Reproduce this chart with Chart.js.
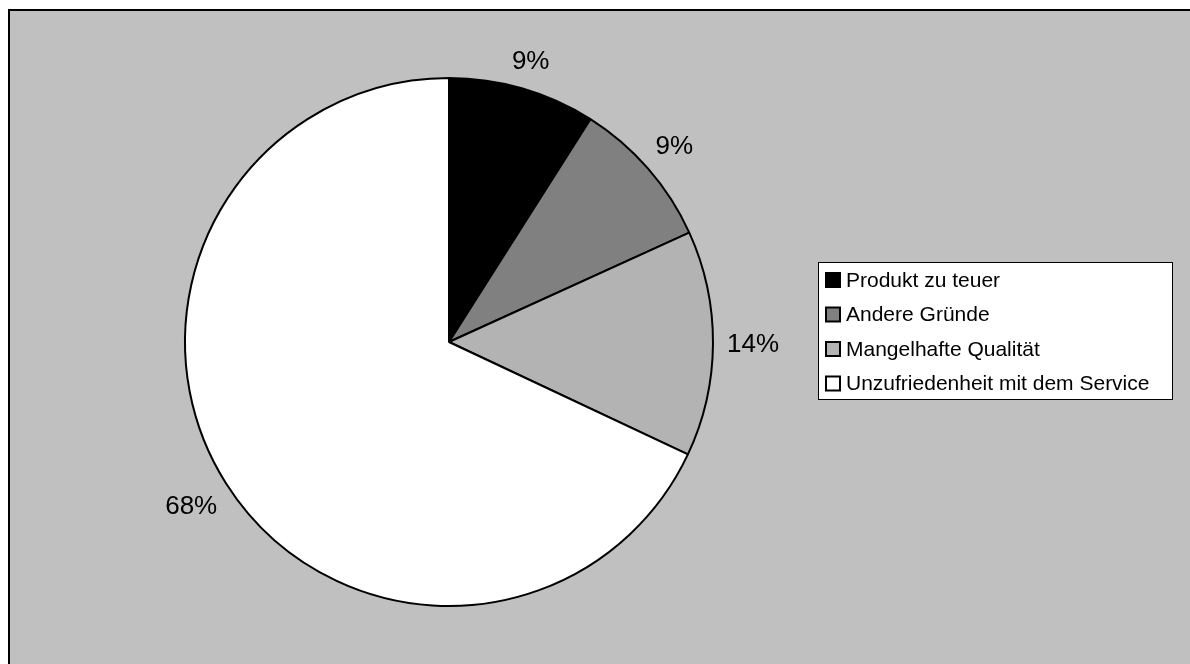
<!DOCTYPE html>
<html>
<head>
<meta charset="utf-8">
<script src="https://cdn.jsdelivr.net/npm/chart.js@4/dist/chart.umd.min.js"></script>
<style>
  html, body { margin: 0; padding: 0; background: #ffffff; }
  #wrap { position: absolute; left: 0; top: 0; width: 1190px; height: 664px; }
</style>
</head>
<body>
<div id="wrap"><canvas id="c" width="1190" height="664"></canvas></div>
<script>
const categories = ["Produkt zu teuer", "Andere Gründe", "Mangelhafte Qualität", "Unzufriedenheit mit dem Service"];
const values = [9.0, 9.2, 13.8, 68.0];
const sliceColors = ["#000000", "#808080", "#B3B3B3", "#FFFFFF"];

const FONT = "'Liberation Sans', Arial, sans-serif";

const backgroundPlugin = {
  id: 'bgFrame',
  beforeDraw(chart) {
    const ctx = chart.ctx;
    ctx.save();
    ctx.fillStyle = '#ffffff';
    ctx.fillRect(0, 0, chart.width, chart.height);
    ctx.fillStyle = '#C0C0C0';
    ctx.fillRect(8, 9, chart.width - 8, chart.height - 9);
    ctx.fillStyle = '#000000';
    ctx.fillRect(8, 9, chart.width - 8, 2);
    ctx.fillRect(8, 9, 2, chart.height - 9);
    ctx.restore();
  }
};

const labelPlugin = {
  id: 'pctLabels',
  afterDatasetsDraw(chart) {
    const ctx = chart.ctx;
    const meta = chart.getDatasetMeta(0);
    const data = chart.data.datasets[0].data;
    const total = data.reduce((a, b) => a + b, 0);
    ctx.save();
    ctx.font = '26px ' + FONT;
    ctx.fillStyle = '#000000';
    ctx.textAlign = 'center';
    ctx.textBaseline = 'middle';
    meta.data.forEach((arc, i) => {
      const mid = (arc.startAngle + arc.endAngle) / 2;
      const ux = Math.cos(mid), uy = Math.sin(mid);
      const txt = Math.round(data[i] / total * 100) + '%';
      const w = ctx.measureText(txt).width;
      const h = 20;
      const half = Math.abs(ux) * w / 2 + Math.abs(uy) * h / 2;
      const d = arc.outerRadius + 14 + half;
      ctx.fillText(txt, arc.x + ux * d, arc.y + uy * d + 1);
    });
    ctx.restore();
  }
};

const legendPlugin = {
  id: 'boxLegend',
  afterDraw(chart) {
    const ctx = chart.ctx;
    const bx = 818, by = 262, bw = 354, bh = 137;
    ctx.save();
    ctx.fillStyle = '#ffffff';
    ctx.fillRect(bx, by, bw, bh);
    ctx.strokeStyle = '#000000';
    ctx.lineWidth = 1;
    ctx.strokeRect(bx + 0.5, by + 0.5, bw, bh);
    ctx.font = '21px ' + FONT;
    ctx.textBaseline = 'middle';
    ctx.textAlign = 'left';
    const labels = chart.data.labels;
    const colors = chart.data.datasets[0].backgroundColor;
    labels.forEach((lab, i) => {
      const cy = by + 18 + i * 34.5;
      ctx.fillStyle = colors[i];
      ctx.fillRect(826, cy - 7, 14, 14);
      ctx.strokeStyle = '#000000';
      ctx.lineWidth = 2;
      ctx.strokeRect(826, cy - 7, 14, 14);
      ctx.fillStyle = '#000000';
      ctx.fillText(lab, 846, cy + 1);
    });
    ctx.restore();
  }
};

new Chart(document.getElementById('c'), {
  type: 'pie',
  data: {
    labels: categories,
    datasets: [{
      data: values,
      backgroundColor: sliceColors,
      borderColor: '#000000',
      borderWidth: 2
    }]
  },
  options: {
    responsive: false,
    animation: false,
    events: [],
    layout: { padding: { left: 184, right: 476, top: 77, bottom: 57 } },
    plugins: {
      legend: { display: false },
      tooltip: { enabled: false },
      title: { display: false }
    }
  },
  plugins: [backgroundPlugin, labelPlugin, legendPlugin]
});
</script>
</body>
</html>
